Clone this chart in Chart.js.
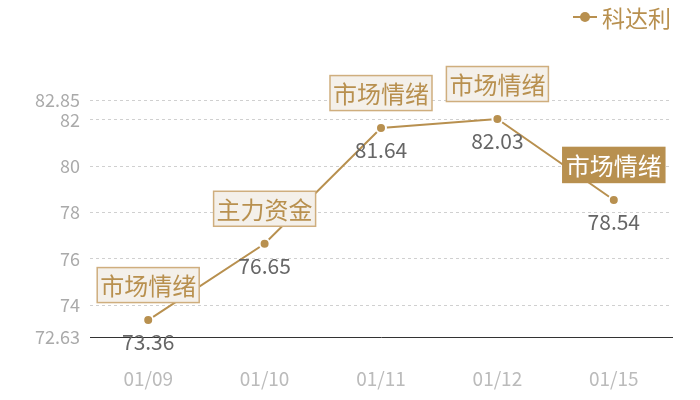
<!DOCTYPE html>
<html>
<head>
<meta charset="utf-8">
<script src="https://cdn.jsdelivr.net/npm/chart.js@4/dist/chart.umd.min.js"></script>
<style>
  html, body { margin: 0; padding: 0; background: #fff; }
  #wrap { width: 700px; height: 400px; }
</style>
</head>
<body>
<div id="wrap"><canvas id="chart"></canvas></div>
<script>
        const dates = ['01/09', '01/10', '01/11', '01/12', '01/15'];
        const values = [73.36, 76.65, 81.64, 82.03, 78.54];
        const tags = ['市场情绪', '主力资金', '市场情绪', '市场情绪', '市场情绪'];
        const yTicks = [72.63, 74, 76, 78, 80, 82, 82.85];
        const seriesName = '科达利';

        const gold = '#b8904f';
        const font = '"Noto Sans CJK SC", "Noto Sans", sans-serif';

        // boxes above each point, value labels below, legend in the corner
        const labelPlugin = {
            id: 'labelPlugin',
            afterDatasetsDraw(chart) {
                const ctx = chart.ctx;
                const meta = chart.getDatasetMeta(0);
                ctx.save();
                meta.data.forEach((pt, i) => {
                    const x = pt.x, y = pt.y;
                    // value under the point
                    ctx.font = '21px ' + font;
                    ctx.fillStyle = '#666';
                    ctx.textAlign = 'center';
                    ctx.textBaseline = 'middle';
                    ctx.fillText(values[i].toFixed(2), x, y + 22);

                    // tag box
                    const w = 102, h = 35;
                    const bx = x - w / 2, by = y - 35 - h / 2;
                    const last = i === values.length - 1;
                    ctx.fillStyle = last ? gold : '#f4f0ea';
                    ctx.fillRect(bx, by, w, h);
                    ctx.lineWidth = 1.5;
                    ctx.strokeStyle = last ? gold : '#cfae7e';
                    ctx.strokeRect(bx, by, w, h);
                    ctx.font = '24px ' + font;
                    ctx.fillStyle = last ? '#fff' : gold;
                    ctx.fillText(tags[i], x, y - 35 + 1);
                });

                // legend
                ctx.strokeStyle = gold;
                ctx.lineWidth = 2;
                ctx.beginPath();
                ctx.moveTo(573, 17);
                ctx.lineTo(597, 17);
                ctx.stroke();
                ctx.fillStyle = gold;
                ctx.beginPath();
                ctx.arc(585, 17, 5, 0, Math.PI * 2);
                ctx.fill();
                ctx.font = '23px ' + font;
                ctx.textAlign = 'left';
                ctx.textBaseline = 'middle';
                ctx.fillText(seriesName, 602, 18);
                ctx.restore();
            }
        };

        new Chart(document.getElementById('chart'), {
            type: 'line',
            data: {
                labels: dates,
                datasets: [{
                    label: seriesName,
                    data: values,
                    borderColor: gold,
                    borderWidth: 2,
                    pointRadius: 5,
                    pointBackgroundColor: gold,
                    pointBorderColor: '#fff',
                    pointBorderWidth: 2,
                    tension: 0
                }]
            },
            options: {
                responsive: true,
                maintainAspectRatio: false,
                animation: false,
                layout: { padding: { top: 100, right: 28, left: 0, bottom: 0 } },
                plugins: { legend: { display: false }, tooltip: { enabled: false } },
                scales: {
                    x: {
                        offset: true,
                        grid: { display: false },
                        border: { display: true, color: '#333', width: 1 },
                        ticks: { color: '#bbb', font: { size: 19, family: font }, padding: 22 },
                        afterFit: s => { s.height = 63; }
                    },
                    y: {
                        min: 72.63,
                        max: 82.85,
                        afterBuildTicks: s => { s.ticks = yTicks.map(v => ({ value: v })); },
                        afterFit: s => { s.width = 90; },
                        border: { display: false, dash: [3, 3] },
                        grid: {
                            drawTicks: false,
                            color: c => (c.tick && c.tick.value === 72.63) ? 'rgba(0,0,0,0)' : '#d0d0d0'
                        },
                        ticks: {
                            color: '#aaa',
                            padding: 10,
                            font: { size: 18, family: font },
                            callback: v => String(v)
                        }
                    }
                }
            },
            plugins: [labelPlugin]
        });
</script>
</body>
</html>
